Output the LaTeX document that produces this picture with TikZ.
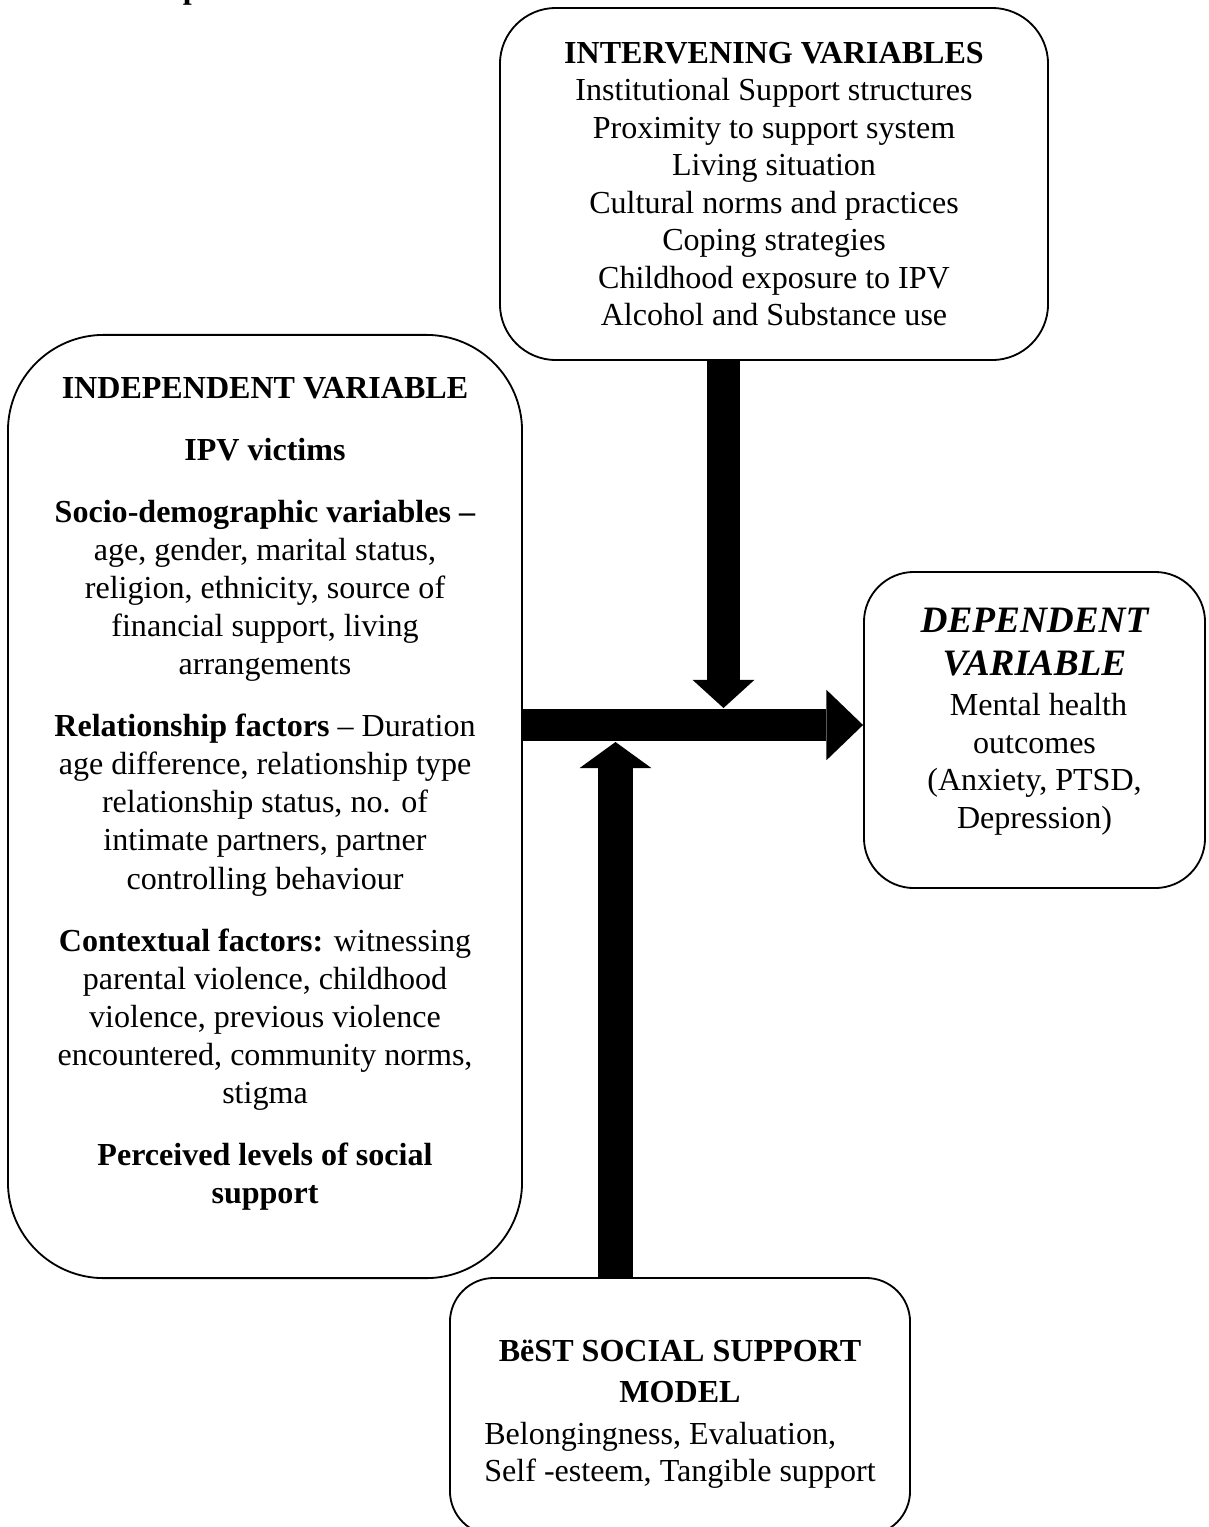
\documentclass[tikz,border=0pt]{standalone}
\usepackage{fontspec}
\setmainfont{Liberation Serif}
\usetikzlibrary{arrows.meta}

\tikzstyle{varbox} = [draw, line width=1.3pt, align=center, inner sep=0pt, font=\fontsize{22.8}{26.7}\selectfont]
\tikzstyle{fatarrow} = [line width=23pt]
\newcommand{\gap}{\\[17pt]}
\newcommand{\depfont}{\fontsize{26.5}{30}\bfseries\itshape\selectfont}
\newcommand{\bodyfont}{\fontsize{22.8}{26.7}\normalfont\selectfont}

\begin{document}
\begin{tikzpicture}[x=0.025cm, y=-0.025cm]
  \useasboundingbox (0,0) rectangle (1209,1527);
  \node[anchor=base west, inner sep=0pt, font=\fontsize{22.8}{26}\bfseries\selectfont] (fwtitle) at (97,-1.5) {Conceptual Framework};

  \node[varbox, rounded corners=1.4cm, minimum width=13.7cm, minimum height=8.8cm] (interv) at (774,184)
    {\textbf{INTERVENING VARIABLES}\\
     Institutional Support structures\\
     Proximity to support system\\
     Living situation\\
     Cultural norms and practices\\
     Coping strategies\\
     Childhood exposure to IPV\\
     Alcohol and Substance use};

  \node[varbox, font=\fontsize{22.8}{27.1}\selectfont, rounded corners=2.4cm, minimum width=12.85cm, minimum height=23.575cm] (indep) at (265,806.5)
    {\textbf{INDEPENDENT VARIABLE}\gap
     \textbf{IPV victims}\gap
     \textbf{Socio-demographic variables –}\\
     age, gender, marital status,\\
     religion, ethnicity, source of\\
     financial support, living\\
     arrangements\gap
     \textbf{Relationship factors} – Duration\\
     age difference, relationship type\\
     relationship status, no. of\\
     intimate partners, partner\\
     controlling behaviour\gap
     \textbf{Contextual factors:} witnessing\\
     parental violence, childhood\\
     violence, previous violence\\
     encountered, community norms,\\
     stigma\gap
     \textbf{Perceived levels of social}\\
     \textbf{support}\\[-4pt]};

  \node[varbox, rounded corners=1.25cm, minimum width=8.525cm, minimum height=7.9cm] (dep) at (1034.5,730)
    {\depfont DEPENDENT\\[4pt]
     \depfont VARIABLE\\[1.5pt]
     \bodyfont\ Mental health\\
     outcomes\\
     (Anxiety, PTSD,\\
     Depression)\\[-10pt]};

  \node[varbox, rounded corners=1.1cm, minimum width=11.5cm, minimum height=6.425cm] (best) at (680,1406.5)
    {\mbox{}\\[3pt]
     \textbf{BëST SOCIAL SUPPORT}\\[2pt]
     \textbf{MODEL}\\[3pt]
     \begin{tabular}[t]{@{}l@{}}Belongingness, Evaluation,\\Self -esteem, Tangible support\end{tabular}};

  \coordinate (hy) at (0,725);
  \coordinate (downtip) at (723.5,708);
  \coordinate (uptip) at (615.5,742);

  \draw[fatarrow, -{Triangle[length=26pt, width=50pt, line width=0pt]}] (indep.east |- hy) -- (dep.west |- hy);
  \draw[fatarrow, -{Triangle[length=20pt, width=44pt, line width=0pt]}] (downtip |- interv.south) -- (downtip);
  \draw[fatarrow, line width=24.5pt, -{Triangle[length=18.5pt, width=51pt, line width=0pt]}] (uptip |- best.north) -- (uptip);
\end{tikzpicture}
\end{document}
